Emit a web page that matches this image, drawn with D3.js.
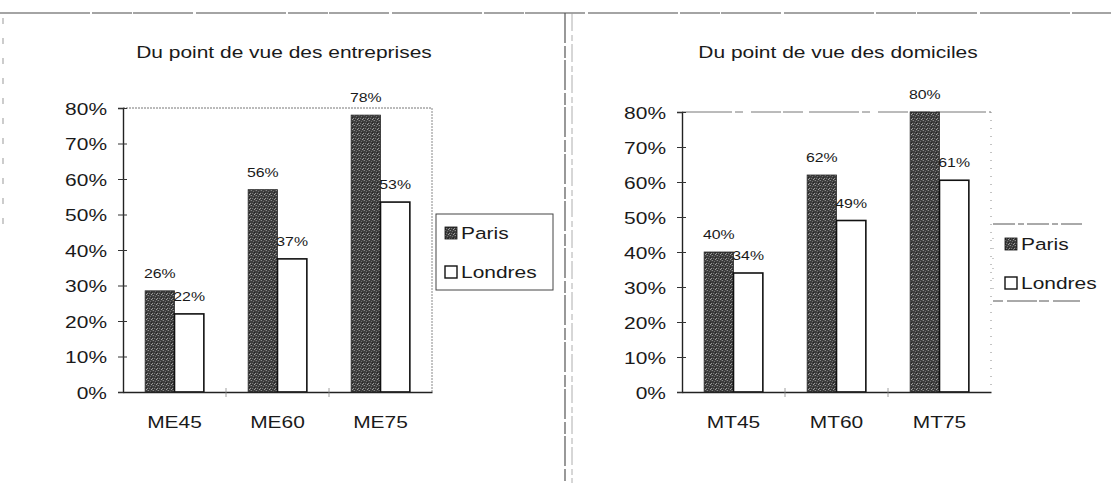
<!DOCTYPE html>
<html>
<head>
<meta charset="utf-8">
<script src="https://cdn.jsdelivr.net/npm/d3@7/dist/d3.min.js"></script>
<style>
  html, body { margin: 0; padding: 0; background: #fff; }
  svg text { font-family: "Liberation Sans", Arial, Helvetica, sans-serif; fill: #1a1a1a; }
</style>
</head>
<body>
<svg id="chart" width="1111" height="483"></svg>
<script>
// ---- data ----
const series = ["Paris", "Londres"];
const categoriesEntreprises = ["ME45", "ME60", "ME75"];
const parisEntreprises = [28.5, 57, 78];
const londresEntreprises = [22, 37.5, 53.5];
const parisEntreprisesLabels = ["26%", "56%", "78%"];
const londresEntreprisesLabels = ["22%", "37%", "53%"];

const categoriesDomiciles = ["MT45", "MT60", "MT75"];
const parisDomiciles = [40, 62, 80];
const londresDomiciles = [34, 49, 60.5];
const parisDomicilesLabels = ["40%", "62%", "80%"];
const londresDomicilesLabels = ["34%", "49%", "61%"];

const yTickValues = [0, 10, 20, 30, 40, 50, 60, 70, 80];
const titles = ["Du point de vue des entreprises", "Du point de vue des domiciles"];

// ---- drawing ----
const SX = 1.27; // horizontal stretch of the scanned text
const svg = d3.select("#chart");

const defs = svg.append("defs");
const pat = defs.append("pattern").attr("id", "stipple")
  .attr("patternUnits", "userSpaceOnUse").attr("width", 5).attr("height", 5);
pat.append("rect").attr("width", 5).attr("height", 5).attr("fill", "#3e3e3e");
[[0,0,"#8a8a8a"],[2,1,"#6e6e6e"],[4,3,"#999"],[1,3,"#777"],[3,4,"#a0a0a0"],[3,2,"#262626"],[0,4,"#2a2a2a"],[4,0,"#555"]]
  .forEach(([x,y,c]) => pat.append("rect").attr("x", x).attr("y", y).attr("width", 1).attr("height", 1).attr("fill", c));

function stext(g, x, y, str, size, anchor) {
  return g.append("text")
    .attr("transform", `translate(${x},${y}) scale(${SX},1)`)
    .attr("text-anchor", anchor || "middle")
    .style("font-size", size + "px")
    .text(str);
}

// outer frame pieces (scanned page borders)
svg.append("line").attr("x1", 0).attr("x2", 1111).attr("y1", 13).attr("y2", 13)
  .attr("stroke", "#4a4a4a").attr("stroke-width", 1.2).attr("stroke-dasharray", "90,2,40,1,60,3");
svg.append("line").attr("x1", 3).attr("x2", 3).attr("y1", 18).attr("y2", 235)
  .attr("stroke", "#999").attr("stroke-width", 1).attr("stroke-dasharray", "6,14");
svg.append("line").attr("x1", 565).attr("x2", 565).attr("y1", 13).attr("y2", 483)
  .attr("stroke", "#555").attr("stroke-width", 1.2).attr("stroke-dasharray", "30,3,12,2");
svg.append("line").attr("x1", 572).attr("x2", 572).attr("y1", 13).attr("y2", 483)
  .attr("stroke", "#999").attr("stroke-width", 0.8).attr("stroke-dasharray", "18,4,6,3");

function drawChart(cfg) {
  const g = svg.append("g");
  const x0 = d3.scaleBand().domain(cfg.categories).range([cfg.left, cfg.right]).padding(0);
  const x1 = d3.scaleBand().domain(series)
    .range([x0.bandwidth() * 0.215, x0.bandwidth() * 0.785]).padding(0);
  const y = d3.scaleLinear().domain([0, 80]).range([392, cfg.top]);

  // title
  stext(g, cfg.titleX, 58, cfg.title, 16.5, "middle");

  // plot area border (top and right, dotted / dashed)
  g.append("line").attr("x1", cfg.left).attr("x2", cfg.right).attr("y1", cfg.top).attr("y2", cfg.top)
    .attr("stroke", "#777").attr("stroke-width", 1).attr("stroke-dasharray", cfg.topDash);
  g.append("line").attr("x1", cfg.right).attr("x2", cfg.right).attr("y1", cfg.top).attr("y2", 392)
    .attr("stroke", "#888").attr("stroke-width", 1).attr("stroke-dasharray", cfg.rightDash);

  // bars
  const rows = cfg.categories.map((c, i) => ({
    cat: c,
    vals: [
      { s: "Paris", v: cfg.paris[i], lab: cfg.parisLabels[i] },
      { s: "Londres", v: cfg.londres[i], lab: cfg.londresLabels[i] }
    ]
  }));
  const grp = g.selectAll("g.cat").data(rows).join("g")
    .attr("transform", d => `translate(${x0(d.cat)},0)`);
  grp.selectAll("rect").data(d => d.vals).join("rect")
    .attr("x", d => x1(d.s))
    .attr("width", x1.bandwidth())
    .attr("y", d => y(d.v))
    .attr("height", d => 392 - y(d.v))
    .attr("fill", d => d.s === "Paris" ? "url(#stipple)" : "#fff")
    .attr("stroke", d => d.s === "Paris" ? "#2a2a2a" : "#111")
    .attr("stroke-width", d => d.s === "Paris" ? 0.8 : 1.6);
  grp.each(function(d) {
    const gg = d3.select(this);
    d.vals.forEach(v => {
      stext(gg, x1(v.s) + x1.bandwidth() / 2, y(v.v) - 13, v.lab, 12.5, "middle");
    });
  });

  // y axis
  const ya = g.append("g").attr("transform", `translate(${cfg.left},0)`)
    .call(d3.axisLeft(y).tickValues(yTickValues).tickFormat(d => d + "%").tickSize(5).tickPadding(0));
  ya.select(".domain").attr("stroke", "#222").attr("stroke-width", 1.4);
  ya.selectAll(".tick line").attr("stroke", "#333").attr("x2", -5).attr("x1", 4);
  ya.selectAll(".tick text")
    .attr("x", 0).attr("dy", null).attr("y", 0)
    .attr("transform", `translate(-16,6) scale(${SX},1)`)
    .style("font-size", "16.5px").attr("fill", "#1a1a1a").attr("font-family", null);

  // x axis
  const xa = g.append("g").attr("transform", `translate(0,392)`)
    .call(d3.axisBottom(x0).tickSize(0).tickPadding(0));
  xa.select(".domain").attr("stroke", "#222").attr("stroke-width", 1.4);
  xa.selectAll(".tick text")
    .attr("y", 0).attr("dy", null)
    .attr("transform", `translate(0,36) scale(${SX},1)`)
    .style("font-size", "16.5px").attr("fill", "#1a1a1a").attr("font-family", null);
  // category separators
  g.selectAll("line.sep").data(cfg.categories.slice(1)).join("line")
    .attr("x1", d => x0(d)).attr("x2", d => x0(d))
    .attr("y1", 388).attr("y2", 397)
    .attr("stroke", "#888").attr("stroke-width", 0.8);

  // legend
  const L = cfg.legend;
  const lg = g.append("g");
  if (L.box) {
    lg.append("rect").attr("x", L.x).attr("y", L.y).attr("width", L.w).attr("height", L.h)
      .attr("fill", "#fff").attr("stroke", "#444").attr("stroke-width", 1);
  } else {
    lg.append("line").attr("x1", L.x).attr("x2", L.x + L.w).attr("y1", L.y).attr("y2", L.y)
      .attr("stroke", "#555").attr("stroke-dasharray", "22,3,6,3");
    lg.append("line").attr("x1", L.x).attr("x2", L.x + L.w - 2).attr("y1", L.y + L.h).attr("y2", L.y + L.h)
      .attr("stroke", "#555").attr("stroke-dasharray", "10,4,30,2");
    lg.append("line").attr("x1", L.x).attr("x2", L.x).attr("y1", L.y + 14).attr("y2", L.y + L.h - 8)
      .attr("stroke", "#999").attr("stroke-dasharray", "1,9");
  }
  series.forEach((s, i) => {
    const by = L.y + L.first + i * 39;
    lg.append("rect").attr("x", L.x + L.sw).attr("y", by - 12).attr("width", 12).attr("height", 12)
      .attr("fill", s === "Paris" ? "url(#stipple)" : "#fff")
      .attr("stroke", "#111").attr("stroke-width", s === "Paris" ? 0.8 : 1.4);
    stext(lg, L.x + L.sw + 16, by, s, 16.5, "start");
  });
}

drawChart({
  title: titles[0], titleX: 284, categories: categoriesEntreprises,
  paris: parisEntreprises, londres: londresEntreprises,
  parisLabels: parisEntreprisesLabels, londresLabels: londresEntreprisesLabels,
  left: 123, right: 432, top: 108, topDash: "2,1", rightDash: "2,1",
  legend: { box: true, x: 436, y: 214, w: 117, h: 76, first: 25, sw: 9 }
});
drawChart({
  title: titles[1], titleX: 838, categories: categoriesDomiciles,
  paris: parisDomiciles, londres: londresDomiciles,
  parisLabels: parisDomicilesLabels, londresLabels: londresDomicilesLabels,
  left: 682, right: 991, top: 112, topDash: "50,3,8,8,30,2,20,6", rightDash: "1,7",
  legend: { box: false, x: 993, y: 224, w: 89, h: 77, first: 26, sw: 12 }
});
</script>
</body>
</html>
